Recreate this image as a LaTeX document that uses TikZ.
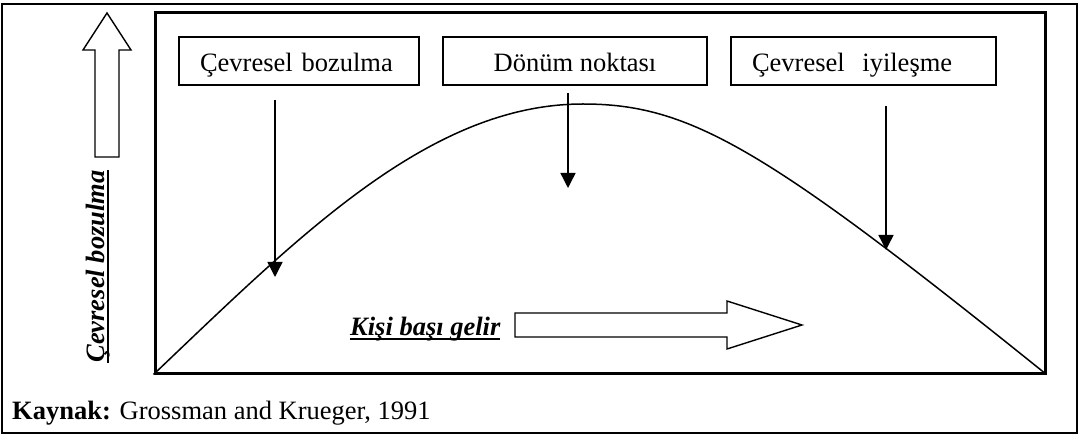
\documentclass[tikz,border=0pt]{standalone}
\usepackage{fontspec}
\setmainfont{Liberation Serif}
\usetikzlibrary{arrows.meta}

% underline set at a fixed distance below the baseline
\newcommand\lineunder[1]{\setbox0\hbox{#1}\rlap{\rule[-5pt]{\wd0}{1.6pt}}\box0}

\tikzset{
  labelbox/.style={draw, line width=1.4pt, minimum height=48pt, inner ysep=0pt,
                   text height=24pt, text depth=2pt},
  plotframe/.style={draw, line width=3pt, inner sep=0pt},
  pointer/.style={line width=1.4pt, -{Triangle[length=15pt,width=15pt]}},
  hollow/.style={draw, line width=1.4pt, fill=white, line join=miter},
  curve/.style={line width=1.5pt},
  plain/.style={inner sep=0pt}
}

\begin{document}
\begin{tikzpicture}[x=1pt, y=-1pt, font=\fontsize{26.5}{30}\selectfont]
\useasboundingbox (0,0) rectangle (1078,435);

% outer border
\draw[line width=2pt] (1.5,4.5) rectangle (1076.5,433);

% plotting frame
\node[plotframe, minimum width=890pt, minimum height=360pt] (plot) at (600,193) {};

% stage labels
\node[labelbox, minimum width=240pt, inner xsep=21pt, text width=198pt, align=left]
  (b1) at (299,61) {Çevresel bozulma};
\node[labelbox, minimum width=264pt] (b2) at (575,61) {Dönüm noktası};
\node[labelbox, minimum width=265pt, inner xsep=21pt, text width=223pt, align=left]
  (b3) at (863.5,61) {Çevresel~~iyileşme};

% environmental Kuznets curve
\coordinate (peak) at (583,104);
\draw[curve] (plot.south west) .. controls (300,235) and (430,104) .. (peak)
             .. controls (690,104) and (765,148) .. (plot.south east);

% pointers from the labels
\coordinate (s1) at (275,100);  \coordinate (e1) at (275,277);
\coordinate (s2) at (568,93);   \coordinate (e2) at (568,188);
\coordinate (s3) at (886,106);  \coordinate (e3) at (886,250);
\draw[pointer] (s1) -- (e1);
\draw[pointer] (s2) -- (e2);
\draw[pointer] (s3) -- (e3);

% vertical axis: block arrow and title
\draw[hollow] (95,157) -- (95,50) -- (83,50) -- (107,13) -- (131,50) -- (119,50) -- (119,157) -- cycle;
\node[plain, rotate=90, anchor=base] (ylabel) at (104,266.5)
  {\bfseries\itshape\lineunder{Çevresel bozulma}};

% horizontal axis: title and block arrow
\node[plain, anchor=base west] (xlabel) at (350,335)
  {\bfseries\itshape\lineunder{Kişi başı gelir}};
\draw[hollow] (515,313) -- (727,313) -- (727,301) -- (802,325) -- (727,349) -- (727,337) -- (515,337) -- cycle;

% source line
\node[plain, anchor=base west] (source) at (12,419)
  {\textbf{Kaynak:} Grossman and Krueger, 1991};
\end{tikzpicture}
\end{document}
